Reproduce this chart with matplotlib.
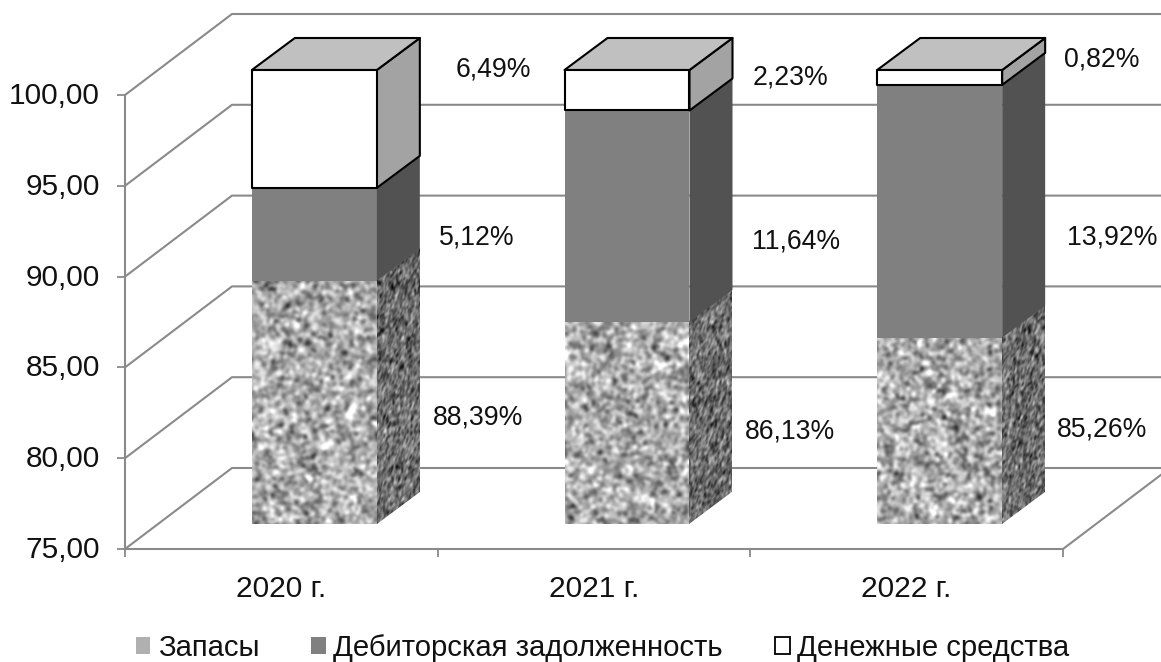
import numpy as np
import matplotlib
matplotlib.use("Agg")
import matplotlib.pyplot as plt
from matplotlib.patches import Patch
from matplotlib.transforms import Affine2D, ScaledTranslation

years = ["2020 г.", "2021 г.", "2022 г."]
zapasy = [88.39, 86.13, 85.26]
debitor = [5.12, 11.64, 13.92]
dengi = [6.49, 2.23, 0.82]
series_names = ["Запасы", "Дебиторская задолженность", "Денежные средства"]
y_ticks = [75, 80, 85, 90, 95, 100]

W, H = 1161, 662
plt.rcParams["font.family"] = ["Liberation Sans", "DejaVu Sans"]

fig = plt.figure(figsize=(W / 100, H / 100), dpi=100, facecolor="white")
ax = fig.add_axes([125 / W, (H - 549) / H, 938 / W, 454 / H])
ax.set_xlim(0, 3)
ax.set_ylim(75, 100)
PX = 938 / 3           # pixels per category
PY = 454 / 25          # pixels per value unit
GRID = "#8a8a8a"

# pseudo-3D geometry
wall_dx, wall_dy = 107 / PX, 81 / PY
off_x, off_y = 33 / PX, 25 / PY
bar_dx, bar_dy = 43 / PX, 32 / PY
half = 62.5 / PX
wall_end = (W - 125) / PX

# walls
for t in y_ticks:
    ax.plot([0, wall_dx, wall_end], [t, t + wall_dy, t + wall_dy], color=GRID, lw=1.5,
            clip_on=False, zorder=1, solid_joinstyle="miter")
ax.plot([3, 3 + wall_dx], [75, 75 + wall_dy], color=GRID, lw=1.5, clip_on=False, zorder=1)


def smooth_noise(h, w, sx, sy, mean, std, seed):
    """Decorative granite fill only; no chart value comes from it."""
    rng = np.random.default_rng(seed)
    n = rng.standard_normal((h, w))
    fy = np.fft.fftfreq(h)[:, None]
    fx = np.fft.rfftfreq(w)[None, :]
    g = np.exp(-2 * np.pi ** 2 * ((fx * sx) ** 2 + (fy * sy) ** 2))
    s = np.fft.irfft2(np.fft.rfft2(n) * g, s=(h, w))
    s = (s - s.mean()) / s.std()
    return np.clip(mean + std * s, 0, 255)


def textured(tex, a, b, c, d, e, f, z):
    tr = Affine2D.from_values(a, b, c, d, e, f) + ax.transData
    ax.imshow(tex, extent=(0, 1, 0, 1), transform=tr, aspect="auto", cmap="gray",
              vmin=0, vmax=255, interpolation="bilinear", zorder=z)


for i in range(len(years)):
    xl = i + 0.5 + off_x - half
    xr = i + 0.5 + off_x + half
    base = 75 + off_y
    v1 = zapasy[i] + off_y
    v2 = zapasy[i] + debitor[i] + off_y
    v3 = zapasy[i] + debitor[i] + dengi[i] + off_y

    # Запасы
    h_px = int((v1 - base) * PY)
    textured(smooth_noise(h_px, 126, 1.9, 1.9, 172, 32, 10 + i),
             xr - xl, 0, 0, v1 - base, xl, base, 3)
    textured(smooth_noise(h_px + 32, 43, 0.9, 1.6, 108, 27, 20 + i),
             bar_dx, bar_dy, 0, v1 - base, xr, base, 3)

    # Дебиторская задолженность
    ax.fill([xl, xr, xr, xl], [v1, v1, v2, v2], color="#808080", lw=0, zorder=4, clip_on=False)
    ax.fill([xr, xr + bar_dx, xr + bar_dx, xr],
            [v1, v1 + bar_dy, v2 + bar_dy, v2], color="#525252", lw=0, zorder=4, clip_on=False)

    # Денежные средства
    edge = dict(edgecolor="black", linewidth=1.5, joinstyle="round", zorder=5, clip_on=False)
    ax.fill([xr, xr + bar_dx, xr + bar_dx, xr],
            [v2, v2 + bar_dy, v3 + bar_dy, v3], facecolor="#a3a3a3", **edge)
    ax.fill([xl, xr, xr + bar_dx, xl + bar_dx],
            [v3, v3, v3 + bar_dy, v3 + bar_dy], facecolor="#c0c0c0", **edge)
    ax.fill([xl, xr, xr, xl], [v2, v2, v3, v3], facecolor="white", **edge)

ax.set_xlim(0, 3)
ax.set_ylim(75, 100)

# axes
for s in ("top", "right"):
    ax.spines[s].set_visible(False)
for s in ("left", "bottom"):
    ax.spines[s].set_color(GRID)
    ax.spines[s].set_linewidth(1.5)
ax.set_yticks(y_ticks)
ax.set_yticklabels([f"{t:.2f}".replace(".", ",") for t in y_ticks], fontsize=21.5, color="#111111")
ax.set_xticks([0, 1, 2, 3])
ax.set_xticklabels([])
ax.set_xticks([0.5, 1.5, 2.5], minor=True)
ax.set_xticklabels(years, minor=True, fontsize=21.5, color="#111111")
ax.tick_params(axis="x", which="major", length=6, width=1.3, color=GRID)
ax.tick_params(axis="x", which="minor", length=0, pad=19)
ax.tick_params(axis="y", length=6, width=1.3, color=GRID, pad=12)
lift = ScaledTranslation(0, 2 / 100, fig.dpi_scale_trans)
for lbl in ax.get_yticklabels():
    lbl.set_transform(lbl.get_transform() + lift)

# data labels
label_px = {
    "zapasy": [(478, 418), (790, 432), (1102, 430)],
    "debitor": [(477, 238), (796, 242), (1112, 238)],
    "dengi": [(493, 70), (790, 77), (1102, 59)],
}
for key, vals in (("zapasy", zapasy), ("debitor", debitor), ("dengi", dengi)):
    for v, (px, py) in zip(vals, label_px[key]):
        fig.text(px / W, 1 - py / H, f"{v:.2f}%".replace(".", ","), fontsize=19.2,
                 ha="center", va="center", color="#111111")

# legend
handles = [
    Patch(facecolor="#b0b0b0", edgecolor="none"),
    Patch(facecolor="#808080", edgecolor="none"),
    Patch(facecolor="white", edgecolor="black", linewidth=1.3),
]
fig.legend(handles, series_names, loc="center", bbox_to_anchor=(602.5 / W, 1 - 648 / H),
           ncol=3, frameon=False, fontsize=21.1, handlelength=0.5, handleheight=0.5,
           handletextpad=0.25, columnspacing=1.78, labelcolor="#111111")

fig.savefig("out.png", dpi=100)
